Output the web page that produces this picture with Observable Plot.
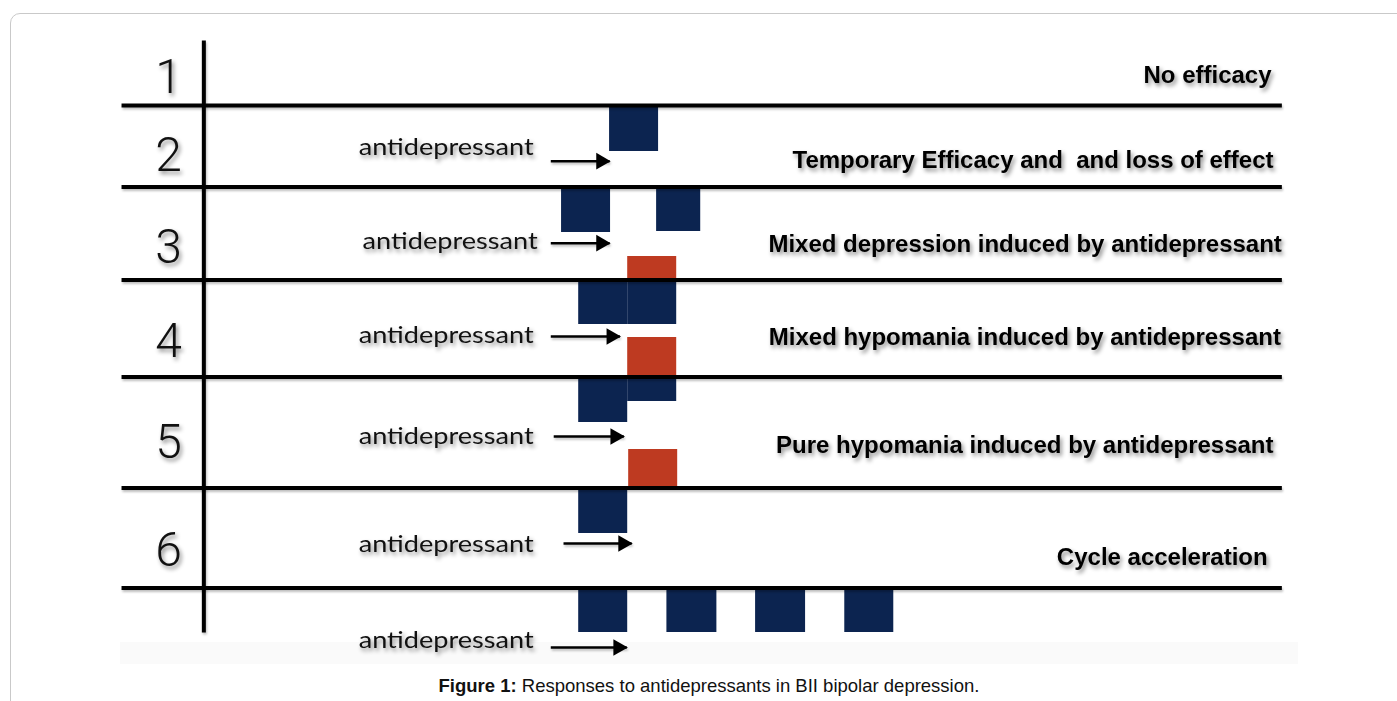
<!DOCTYPE html>
<html>
<head>
<meta charset="utf-8">
<script src="https://cdn.jsdelivr.net/npm/d3@7"></script>
<script src="https://cdn.jsdelivr.net/npm/@observablehq/plot@0.6"></script>
<style>
  html, body { margin: 0; padding: 0; width: 1397px; height: 701px; overflow: hidden; background: #fff; }
  #frame { position: absolute; left: 10px; top: 13px; width: 1420px; height: 720px; border: 1px solid #c9c9c9; border-radius: 10px; box-sizing: border-box; }
  #band { position: absolute; left: 120px; top: 642px; width: 1178px; height: 22px; background: #fafafa; }
  #chart { position: absolute; left: 0; top: 0; }
  #caption { position: absolute; left: 0; top: 675px; width: 1418px; text-align: center; font-family: "Liberation Sans", Arial, sans-serif; font-size: 18.5px; color: #111; }
  #caption b { font-weight: bold; }
</style>
</head>
<body>
<div id="frame"></div>
<div id="band"></div>
<div id="chart"></div>
<div id="caption"><b>Figure 1:</b> Responses to antidepressants in BII bipolar depression.</div>
<script>
// ---- Data (x in arbitrary time units, y in diagram level units, downward) ----
const rowNumbers = ["1", "2", "3", "4", "5", "6"];
const rowNumberY = [7.73, 15.53, 24.68, 34.13, 44.23, 54.98];
const rowNumberX = -8.37;

const descriptions = [
  "No efficacy",
  "Temporary Efficacy and  and loss of effect",
  "Mixed depression induced by antidepressant",
  "Mixed hypomania induced by antidepressant",
  "Pure hypomania induced by antidepressant",
  "Cycle acceleration"
];
const descriptionEndX = [14.14, 14.18, 14.35, 14.33, 14.18, 14.06];
const descriptionY = [7.53, 16.03, 24.43, 33.73, 44.53, 55.73];

// horizontal separators (baselines) and the vertical axis
const separatorY = [10.5, 18.65, 27.95, 37.65, 48.75, 58.75];
const separatorX = [-9.33, 14.35];
const axisX = -7.65;
const axisY = [4.0, 63.2];

// antidepressant start labels and arrows
const drugLabel = "antidepressant";
const drugLabelX = [-4.49, -4.41, -4.49, -4.49, -4.49, -4.49];
const drugLabelY = [14.76, 24.16, 33.56, 43.66, 54.46, 64.06];
const arrowStart = [-0.57, -0.57, -0.57, -0.51, -0.31, -0.57];
const arrowEnd   = [0.63, 0.63, 0.84, 0.92, 1.08, 0.98];
const arrowY     = [16.07, 24.27, 33.6, 43.6, 54.3, 64.7];

// mood episodes: depression (navy) below a baseline, hypomania (red) above
const blockKind   = ["depression","depression","depression","hypomania","depression","depression","hypomania","depression","depression","hypomania","depression","depression","depression","depression","depression"];
const blockStart  = [0.63, -0.35, 1.59, 1.0, 0.0, 1.0, 1.0, 0.0, 1.0, 1.02, 0.0, 0.0, 1.80, 3.61, 5.43];
const blockEnd    = [1.63, 0.65, 2.49, 2.0, 1.0, 2.0, 2.0, 1.0, 2.0, 2.02, 1.0, 1.0, 2.82, 4.63, 6.43];
const blockTop    = [10.5, 18.65, 18.65, 25.6, 27.95, 27.95, 33.7, 37.65, 37.65, 44.9, 48.75, 58.75, 58.75, 58.75, 58.75];
const blockBottom = [15.1, 23.2, 23.1, 27.95, 32.4, 32.4, 37.65, 42.2, 40.1, 48.75, 53.3, 63.2, 63.2, 63.2, 63.2];

const kindDomain = ["depression", "hypomania"];
const kindColors = ["#0c2450", "#be3a21"];

// ---- Tables built from the arrays ----
const blocks = blockKind.map((k, i) => ({kind: k, x1: blockStart[i], x2: blockEnd[i], y1: blockTop[i], y2: blockBottom[i]}));
const separators = separatorY.map(y => ({x1: separatorX[0], x2: separatorX[1], y}));
const numbers = rowNumbers.map((n, i) => ({n, x: rowNumberX, y: rowNumberY[i]}));
const descs = descriptions.map((d, i) => ({d, x: descriptionEndX[i], y: descriptionY[i]}));
const drugs = drugLabelX.map((x, i) => ({x, y: drugLabelY[i]}));
const arrows = arrowStart.map((x1, i) => ({x1, x2: arrowEnd[i], y: arrowY[i]}));

const plot = Plot.plot({
  width: 1397,
  height: 670,
  marginTop: 0, marginRight: 0, marginBottom: 0, marginLeft: 0,
  x: {domain: [-11.8, 16.71], range: [0, 1397], axis: null},
  y: {domain: [0, 67], range: [0, 670], axis: null},
  color: {domain: kindDomain, range: kindColors},
  style: {background: "transparent"},
  marks: [
    Plot.rect(blocks, {x1: "x1", x2: "x2", y1: "y1", y2: "y2", fill: "kind"}),
    Plot.link(separators, {x1: "x1", x2: "x2", y1: "y", y2: "y", stroke: "#000", strokeWidth: 4, strokeLinecap: "butt"}),
    Plot.link([axisY], {x1: () => axisX, x2: () => axisX, y1: d => d[0], y2: d => d[1], stroke: "#000", strokeWidth: 4, strokeLinecap: "butt"}),
    Plot.link(arrows, {x1: "x1", x2: "x2", y1: "y", y2: "y", stroke: "#000", strokeWidth: 2.6, strokeLinecap: "butt"}),
    Plot.dot(arrows, {x: "x2", y: "y", symbol: "triangle", r: 6.2, rotate: 90, fill: "#000", stroke: "none", dx: -8.5}),
    Plot.text(numbers, {x: "x", y: "y", text: "n", fontSize: 48, fontFamily: "Roboto, 'Liberation Sans', sans-serif", fontWeight: 300, fill: "#111", textAnchor: "middle"}),
    Plot.text(descs, {x: "x", y: "y", text: "d", fontSize: 24, fontFamily: "'Liberation Sans', Arial, sans-serif", fontWeight: "bold", fill: "#000", textAnchor: "end"}),
    Plot.text(drugs, {x: "x", y: "y", text: () => drugLabel, fontSize: 23, fontFamily: "Lato, 'Open Sans', sans-serif", fill: "#111", textAnchor: "start"})
  ]
});

document.getElementById("chart").appendChild(plot);
const svg = d3.select(plot);
svg.selectAll("g[aria-label='text'] text").style("filter", "drop-shadow(2px 3px 2px rgba(0,0,0,0.45))");
svg.selectAll("g[aria-label='link']").style("filter", "drop-shadow(1px 2px 1px rgba(0,0,0,0.25))");
// stretch the "antidepressant" labels to the width they have in the original figure
svg.selectAll("g[aria-label='text']").filter((d, i, n) => d3.select(n[i]).attr("font-family")?.startsWith("Lato"))
  .selectAll("text").attr("textLength", 175).attr("lengthAdjust", "spacingAndGlyphs");
</script>
</body>
</html>
